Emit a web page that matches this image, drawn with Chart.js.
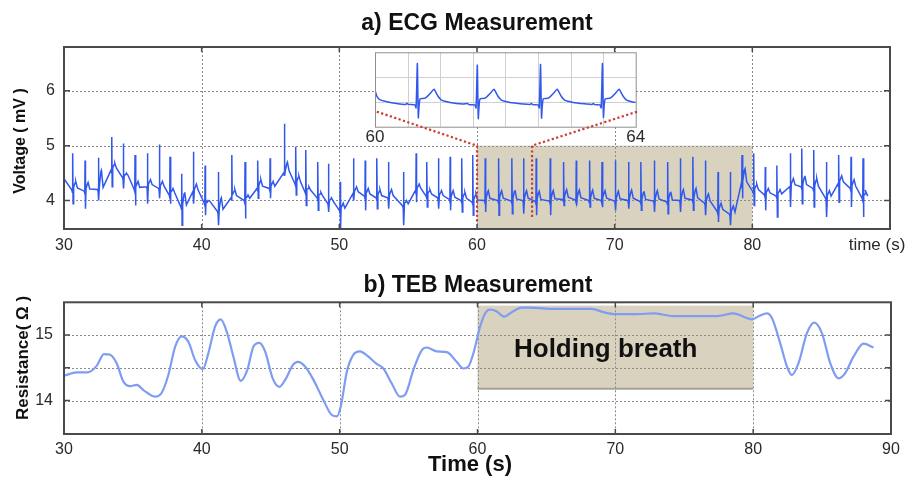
<!DOCTYPE html>
<html>
<head>
<meta charset="utf-8">
<script src="https://cdn.jsdelivr.net/npm/chart.js@4.4.1/dist/chart.umd.min.js"></script>
<style>
  body { margin: 0; background: #fff; }
  #wrap { position: relative; width: 909px; height: 483px; overflow: hidden; }
  canvas { position: absolute; }
</style>
</head>
<body>
<div id="wrap">
  <canvas id="ecg" width="909" height="260" style="left:0;top:0"></canvas>
  <canvas id="teb" width="909" height="223" style="left:0;top:260px"></canvas>
  <canvas id="inset" width="290" height="96" style="left:360px;top:48px"></canvas>
  <canvas id="links" width="909" height="260" style="left:0;top:0"></canvas>
</div>
<script>
// ---- ECG (a): one entry per heart beat ----
const beatTime = [30.63, 31.53, 32.50, 33.47, 34.31, 35.16, 36.06, 36.93, 37.70, 38.55,
  39.40, 40.25, 41.21, 42.19, 43.15, 44.08, 44.97, 46.01, 46.84, 47.57,
  48.44, 49.21, 50.06, 51.03, 51.88, 52.73, 53.57, 54.66, 55.58, 56.36,
  57.20, 58.05, 58.90, 59.70, 60.60, 61.57, 62.54, 63.38, 64.30, 65.32,
  66.29, 67.21, 68.18, 69.08, 70.05, 71.01, 71.91, 72.88, 73.85, 74.77,
  75.69, 76.59, 77.51, 78.40, 79.25, 80.10, 80.94, 81.79, 82.76, 83.60,
  84.46, 85.38, 86.27, 87.17, 88.04];
const beatR = [4.86, 4.73, 4.78, 5.16, 5.04, 4.83, 4.86, 5.02, 4.80, 4.49,
  4.89, 4.64, 4.52, 4.83, 4.70, 4.73, 4.77, 5.40, 4.98, 4.92,
  4.70, 4.67, 4.34, 4.77, 4.73, 4.77, 4.70, 4.52, 4.86, 4.70,
  4.77, 4.80, 4.77, 4.83, 4.77, 4.77, 4.77, 4.77, 4.77, 4.77,
  4.70, 4.73, 4.73, 4.70, 4.73, 4.70, 4.70, 4.73, 4.70, 4.77,
  4.80, 4.73, 4.52, 4.52, 4.83, 4.86, 4.61, 4.64, 4.86, 4.95,
  4.92, 4.70, 4.83, 4.80, 4.77];
const beatS = [3.94, 3.85, 4.00, 4.25, 4.22, 3.91, 3.94, 4.04, 3.94, 3.55,
  3.94, 3.73, 3.55, 4.10, 3.67, 4.04, 4.04, 4.46, 4.10, 3.91,
  3.82, 3.79, 3.49, 4.00, 3.82, 3.85, 3.85, 3.55, 3.97, 3.88,
  3.85, 3.82, 3.79, 3.73, 3.79, 3.73, 3.76, 3.76, 3.73, 3.73,
  3.91, 3.91, 3.88, 3.88, 3.82, 3.85, 3.82, 3.79, 3.76, 3.79,
  3.82, 3.73, 3.61, 3.55, 4.04, 3.91, 3.82, 3.70, 3.88, 3.94,
  3.88, 3.70, 3.97, 3.88, 3.70];
const beatBase = [4.19, 4.17, 4.20, 4.55, 4.42, 4.20, 4.25, 4.22, 4.10, 3.88,
  4.15, 3.95, 3.80, 4.05, 4.00, 4.22, 4.22, 4.50, 4.30, 4.15,
  4.05, 3.95, 3.82, 4.12, 4.08, 4.05, 4.05, 3.90, 4.18, 4.08,
  4.05, 4.02, 4.00, 3.97, 4.00, 4.00, 3.99, 4.00, 3.98, 3.99,
  4.02, 4.01, 4.00, 4.00, 3.99, 4.00, 3.98, 3.99, 3.97, 4.00,
  4.01, 3.95, 3.80, 3.75, 4.30, 4.16, 4.10, 4.08, 4.25, 4.25,
  4.22, 4.04, 4.30, 4.22, 4.04];
const beatT = [4.35, 4.33, 4.55, 4.68, 4.50, 4.35, 4.38, 4.35, 4.22, 4.15,
  4.30, 4.00, 4.05, 4.20, 4.10, 4.38, 4.35, 4.70, 4.45, 4.25,
  4.15, 4.05, 3.95, 4.25, 4.22, 4.20, 4.20, 4.00, 4.30, 4.20,
  4.18, 4.18, 4.15, 4.12, 4.18, 4.18, 4.19, 4.18, 4.17, 4.18,
  4.20, 4.19, 4.19, 4.18, 4.17, 4.19, 4.17, 4.18, 4.16, 4.20,
  4.22, 4.12, 3.95, 3.90, 4.58, 4.30, 4.22, 4.20, 4.40, 4.45,
  4.40, 4.18, 4.45, 4.38, 4.15];
const ecgStart = [30.0, 4.40];
const ecgEnd = [88.2, 4.19];

// inset (60-64 s zoom), values in the inset's own units
const insetTime = [60.00, 60.03, 60.08, 60.18, 60.33, 60.47, 60.49, 60.51, 60.61, 60.63,
  60.65, 60.665, 60.69, 60.77, 60.85, 60.905, 60.96, 61.02, 61.15, 61.35,
  61.42, 61.44, 61.53, 61.55, 61.57, 61.585, 61.61, 61.69, 61.77, 61.825,
  61.88, 61.94, 62.07, 62.27, 62.38, 62.40, 62.42, 62.50, 62.52, 62.54,
  62.555, 62.58, 62.66, 62.74, 62.795, 62.85, 62.91, 63.04, 63.24, 63.33,
  63.35, 63.37, 63.45, 63.47, 63.49, 63.505, 63.53, 63.61, 63.69, 63.745,
  63.80, 63.86, 63.95, 64.00];
const insetVal = [1.48, 1.22, 1.08, 1.01, 0.94, 0.90, 0.95, 0.90, 0.88, 0.76,
  2.55, 0.36, 1.12, 1.15, 1.35, 1.51, 1.26, 1.07, 0.98, 0.92,
  0.94, 0.89, 0.88, 0.76, 2.48, 0.33, 1.12, 1.15, 1.35, 1.51,
  1.26, 1.07, 0.98, 0.92, 0.90, 0.94, 0.89, 0.88, 0.76, 2.51,
  0.35, 1.12, 1.15, 1.35, 1.51, 1.26, 1.07, 0.98, 0.92, 0.90,
  0.94, 0.89, 0.88, 0.76, 2.55, 0.38, 1.12, 1.15, 1.35, 1.51,
  1.26, 1.07, 1.00, 0.98];

// ---- TEB (b) ----
const tebTime = [30.00, 30.92, 31.69, 32.37, 32.90, 33.34, 33.82, 34.31, 34.79, 35.28,
  35.76, 36.60, 37.09, 37.57, 38.06, 38.54, 39.02, 39.51, 40.07, 40.47,
  40.96, 41.37, 41.81, 42.29, 42.82, 43.30, 43.74, 44.17, 44.59, 45.14,
  45.63, 46.11, 46.60, 46.96, 47.49, 48.09, 48.70, 49.43, 49.79, 50.08,
  50.52, 51.00, 51.48, 51.97, 52.69, 53.17, 53.78, 54.38, 54.75, 55.35,
  55.96, 56.32, 57.05, 57.77, 58.50, 58.98, 59.34, 59.70, 60.19, 60.55,
  60.92, 61.40, 61.93, 62.49, 63.21, 63.82, 65.27, 68.29, 69.14, 69.99,
  71.56, 72.77, 74.22, 77.37, 78.58, 79.30, 79.91, 80.51, 81.00, 81.36,
  81.97, 82.45, 82.81, 83.29, 83.90, 84.43, 84.99, 85.59, 86.19, 86.68,
  87.28, 88.01, 88.73];
const tebRes = [14.38, 14.43, 14.43, 14.53, 14.71, 14.70, 14.57, 14.29, 14.22, 14.24,
  14.16, 14.06, 14.12, 14.39, 14.82, 14.98, 14.90, 14.62, 14.48, 14.72,
  15.13, 15.24, 15.05, 14.67, 14.30, 14.47, 14.82, 14.88, 14.75, 14.34,
  14.21, 14.34, 14.54, 14.59, 14.52, 14.32, 14.06, 13.78, 13.76, 13.91,
  14.44, 14.70, 14.75, 14.69, 14.56, 14.49, 14.26, 14.06, 14.09, 14.47,
  14.77, 14.81, 14.75, 14.74, 14.59, 14.49, 14.52, 14.72, 15.13, 15.33,
  15.39, 15.36, 15.28, 15.35, 15.42, 15.42, 15.40, 15.40, 15.35, 15.32,
  15.32, 15.33, 15.29, 15.29, 15.33, 15.28, 15.24, 15.30, 15.33, 15.26,
  14.87, 14.52, 14.39, 14.57, 15.03, 15.19, 15.03, 14.57, 14.34, 14.42,
  14.67, 14.87, 14.81];

// ticks / grids
const xTicks = [30, 40, 50, 60, 70, 80, 90];
const ecgYTicks = [4, 5, 6];
const tebYTicks = [14, 14.5, 15];
const insetXTicks = [60, 64];
const insetGridX = [60.5, 61, 61.5, 62, 62.5, 63, 63.5];
const insetGridY = [1, 2];
// shaded interval [t0, t1, yLow, yHigh]
const ecgBox = [60, 80, 3.48, 5];
const tebBox = [60, 80, 14.18, 15.45];
// red zoom connectors: from (x0,y0) to (x1,y1) then down to y2
const zoomLinks = [[52.72, 5.62, 60, 5.0, 3.61], [71.62, 5.62, 64, 5.0, 3.70]];

const FONT = "'Liberation Sans', Arial, Helvetica, sans-serif";

// 1. builds the ECG trace: each beat gives baseline, R spike, S dip and T wave
function montarEcg() {
    let pts = [{ x: ecgStart[0], y: ecgStart[1] }];
    beatTime.forEach((t, i) => {
        let b = beatBase[i];
        pts.push({ x: t - 0.06, y: b });
        pts.push({ x: t - 0.02, y: b - 0.04 });
        pts.push({ x: t, y: beatR[i] });
        pts.push({ x: t + 0.03, y: beatS[i] });
        pts.push({ x: t + 0.07, y: b + 0.05 });
        pts.push({ x: t + 0.17, y: beatT[i] - 0.03 });
        pts.push({ x: t + 0.22, y: beatT[i] });
        pts.push({ x: t + 0.34, y: b + 0.04 });
    });
    pts.push({ x: ecgEnd[0], y: ecgEnd[1] });
    return pts;
}

// 2. drawing helpers
function gradePontilhada(chart, xs, ys) {
    const { ctx, chartArea: a, scales: { x, y } } = chart;
    ctx.save();
    ctx.strokeStyle = '#8a8a8a';
    ctx.lineWidth = 1;
    ctx.setLineDash([2, 2]);
    xs.forEach(v => {
        let px = Math.round(x.getPixelForValue(v)) + 0.5;
        ctx.beginPath(); ctx.moveTo(px, a.top); ctx.lineTo(px, a.bottom); ctx.stroke();
    });
    ys.forEach(v => {
        let py = Math.round(y.getPixelForValue(v)) + 0.5;
        ctx.beginPath(); ctx.moveTo(a.left, py); ctx.lineTo(a.right, py); ctx.stroke();
    });
    ctx.restore();
}

function moldura(chart, xs, ys) {
    const { ctx, chartArea: a, scales: { x, y } } = chart;
    ctx.save();
    ctx.strokeStyle = '#4a4a4a';
    ctx.lineWidth = 2;
    ctx.strokeRect(a.left, a.top, a.right - a.left, a.bottom - a.top);
    ctx.lineWidth = 1.5;
    xs.forEach(v => {
        let px = x.getPixelForValue(v);
        ctx.beginPath();
        ctx.moveTo(px, a.bottom); ctx.lineTo(px, a.bottom - 5);
        ctx.moveTo(px, a.top); ctx.lineTo(px, a.top + 5);
        ctx.stroke();
    });
    ys.forEach(v => {
        let py = y.getPixelForValue(v);
        ctx.beginPath();
        ctx.moveTo(a.left, py); ctx.lineTo(a.left + 6, py);
        ctx.moveTo(a.right, py); ctx.lineTo(a.right - 6, py);
        ctx.stroke();
    });
    ctx.restore();
}

function caixa(chart, box) {
    const { ctx, scales: { x, y } } = chart;
    let x0 = x.getPixelForValue(box[0]), x1 = x.getPixelForValue(box[1]);
    let y0 = y.getPixelForValue(box[3]), y1 = y.getPixelForValue(box[2]);
    ctx.save();
    ctx.fillStyle = '#d8d2bf';
    ctx.fillRect(x0, y0, x1 - x0, y1 - y0);
    ctx.restore();
    return [x0, y0, x1, y1];
}

function texto(ctx, str, px, py, font, opts = {}) {
    ctx.save();
    ctx.font = font;
    ctx.fillStyle = opts.color || '#111';
    ctx.textAlign = opts.align || 'center';
    ctx.textBaseline = 'middle';
    ctx.translate(px, py);
    if (opts.rot) ctx.rotate(opts.rot);
    ctx.fillText(str, 0, 0);
    ctx.restore();
}

function eixoX(ticksArr, extra) {
    return Object.assign({
        type: 'linear', min: 30, max: 90,
        afterBuildTicks: s => { s.ticks = ticksArr.map(v => ({ value: v })); },
        grid: { display: false, drawTicks: false },
        border: { display: false },
        ticks: { autoSkip: false, maxRotation: 0, color: '#2a2a2a', font: { family: FONT, size: 16 } }
    }, extra);
}

// 3. ECG chart
const ecgChart = new Chart(document.getElementById('ecg'), {
    type: 'line',
    data: {
        datasets: [{
            data: montarEcg(),
            borderColor: '#3158ec',
            borderWidth: 1.5,
            pointRadius: 0,
            tension: 0
        }]
    },
    options: {
        responsive: false, animation: false, events: [],
        layout: { padding: { top: 47, right: 19, left: 0, bottom: 0 } },
        plugins: { legend: { display: false }, tooltip: { enabled: false } },
        scales: {
            x: eixoX(xTicks, {
                afterFit: s => { s.height = 31; },
                ticks: { autoSkip: false, maxRotation: 0, padding: 7, color: '#2a2a2a',
                    font: { family: FONT, size: 16 }, callback: v => v === 90 ? '' : v }
            }),
            y: {
                type: 'linear', min: 3.48, max: 6.8,
                afterBuildTicks: s => { s.ticks = ecgYTicks.map(v => ({ value: v })); },
                afterFit: s => { s.width = 64; },
                grid: { display: false, drawTicks: false },
                border: { display: false },
                ticks: { padding: 9, color: '#2a2a2a', font: { family: FONT, size: 16 } }
            }
        }
    },
    plugins: [{
        id: 'ecgDecor',
        beforeDraw: c => caixa(c, ecgBox),
        beforeDatasetsDraw: c => gradePontilhada(c, [40, 50, 60, 70, 80], ecgYTicks),
        afterDraw: c => {
            moldura(c, xTicks, ecgYTicks);
            const ctx = c.ctx;
            texto(ctx, 'a) ECG Measurement', 477, 24, `bold 23px ${FONT}`);
            texto(ctx, 'Voltage ( mV )', 21, 141, `bold 16px ${FONT}`, { rot: -Math.PI / 2 });
            texto(ctx, 'time (s)', 877, 245, `17px ${FONT}`, { color: '#2a2a2a' });
        }
    }]
});

// 4. inset with the 60-64 s detail
new Chart(document.getElementById('inset'), {
    type: 'line',
    data: {
        datasets: [{
            data: insetTime.map((t, i) => ({ x: t, y: insetVal[i] })),
            borderColor: '#3158ec',
            borderWidth: 1.5,
            pointRadius: 0,
            tension: 0.2
        }]
    },
    options: {
        responsive: false, animation: false, events: [],
        layout: { padding: { top: 4.3, right: 14.3, left: 15, bottom: 0 } },
        plugins: { legend: { display: false }, tooltip: { enabled: false } },
        scales: {
            x: {
                type: 'linear', min: 60, max: 64,
                afterBuildTicks: s => { s.ticks = insetXTicks.map(v => ({ value: v })); },
                afterFit: s => { s.height = 17.3; },
                grid: { display: false, drawTicks: false },
                border: { display: false },
                ticks: { padding: 0, autoSkip: false, maxRotation: 0, color: '#2a2a2a',
                    font: { family: FONT, size: 17 } }
            },
            y: { type: 'linear', min: 0, max: 3, display: false }
        }
    },
    plugins: [{
        id: 'insetDecor',
        beforeDatasetsDraw: c => {
            const { ctx, chartArea: a, scales: { x, y } } = c;
            ctx.save();
            ctx.fillStyle = '#fff';
            ctx.fillRect(a.left, a.top, a.right - a.left, a.bottom - a.top);
            ctx.strokeStyle = '#cfcfcf';
            ctx.lineWidth = 1;
            insetGridX.forEach(v => {
                let px = Math.round(x.getPixelForValue(v)) + 0.5;
                ctx.beginPath(); ctx.moveTo(px, a.top); ctx.lineTo(px, a.bottom); ctx.stroke();
            });
            insetGridY.forEach(v => {
                let py = Math.round(y.getPixelForValue(v)) + 0.5;
                ctx.beginPath(); ctx.moveTo(a.left, py); ctx.lineTo(a.right, py); ctx.stroke();
            });
            ctx.restore();
        },
        afterDraw: c => {
            const { ctx, chartArea: a } = c;
            ctx.save();
            ctx.strokeStyle = '#8f8f8f';
            ctx.lineWidth = 1;
            ctx.strokeRect(a.left + 0.5, a.top + 0.5, a.right - a.left, a.bottom - a.top);
            ctx.restore();
        }
    }]
});

// 5. TEB chart
new Chart(document.getElementById('teb'), {
    type: 'line',
    data: {
        datasets: [{
            data: tebTime.map((t, i) => ({ x: t, y: tebRes[i] })),
            borderColor: '#7e9cf2',
            borderWidth: 2.2,
            pointRadius: 0,
            cubicInterpolationMode: 'monotone'
        }]
    },
    options: {
        responsive: false, animation: false, events: [],
        layout: { padding: { top: 42.3, right: 18, left: 0, bottom: 0 } },
        plugins: { legend: { display: false }, tooltip: { enabled: false } },
        scales: {
            x: eixoX(xTicks, {
                afterFit: s => { s.height = 49; },
                ticks: { autoSkip: false, maxRotation: 0, padding: 6, color: '#2a2a2a',
                    font: { family: FONT, size: 16 } }
            }),
            y: {
                type: 'linear', min: 13.49, max: 15.5,
                afterBuildTicks: s => { s.ticks = tebYTicks.map(v => ({ value: v })); },
                afterFit: s => { s.width = 64; },
                grid: { display: false, drawTicks: false },
                border: { display: false },
                ticks: { padding: 11, color: '#2a2a2a', font: { family: FONT, size: 16 },
                    callback: v => v === 14.5 ? '' : v }
            }
        }
    },
    plugins: [{
        id: 'tebDecor',
        beforeDraw: c => {
            let r = caixa(c, tebBox);
            const ctx = c.ctx;
            ctx.save();
            ctx.strokeStyle = '#a8a294';
            ctx.lineWidth = 2;
            ctx.beginPath(); ctx.moveTo(r[0], r[3]); ctx.lineTo(r[2], r[3]); ctx.stroke();
            ctx.restore();
        },
        beforeDatasetsDraw: c => gradePontilhada(c, [40, 50, 60, 70, 80], tebYTicks),
        afterDraw: c => {
            moldura(c, xTicks, tebYTicks);
            const { ctx, scales: { x, y } } = c;
            texto(ctx, 'Holding breath', x.getPixelForValue(69.3), y.getPixelForValue(14.77),
                `bold 26px ${FONT}`);
            texto(ctx, 'b) TEB Measurement', 478, 26, `bold 23px ${FONT}`);
            texto(ctx, 'Time (s)', 470, 205, `bold 22px ${FONT}`);
            texto(ctx, 'Resistance( Ω )', 23, 98, `bold 17px ${FONT}`, { rot: -Math.PI / 2 });
        }
    }]
});

// 6. red dotted connectors from the inset to the 60-64 s window
(function desenharLigacoes() {
    const ctx = document.getElementById('links').getContext('2d');
    const xs = ecgChart.scales.x, ys = ecgChart.scales.y;
    ctx.strokeStyle = '#cc3b33';
    ctx.lineWidth = 2.2;
    ctx.setLineDash([2.2, 2.4]);
    zoomLinks.forEach(([x0, y0, x1, y1, y2]) => {
        ctx.beginPath();
        ctx.moveTo(xs.getPixelForValue(x0), ys.getPixelForValue(y0));
        ctx.lineTo(xs.getPixelForValue(x1), ys.getPixelForValue(y1));
        ctx.lineTo(xs.getPixelForValue(x1), ys.getPixelForValue(y2));
        ctx.stroke();
    });
})();
</script>
</body>
</html>
